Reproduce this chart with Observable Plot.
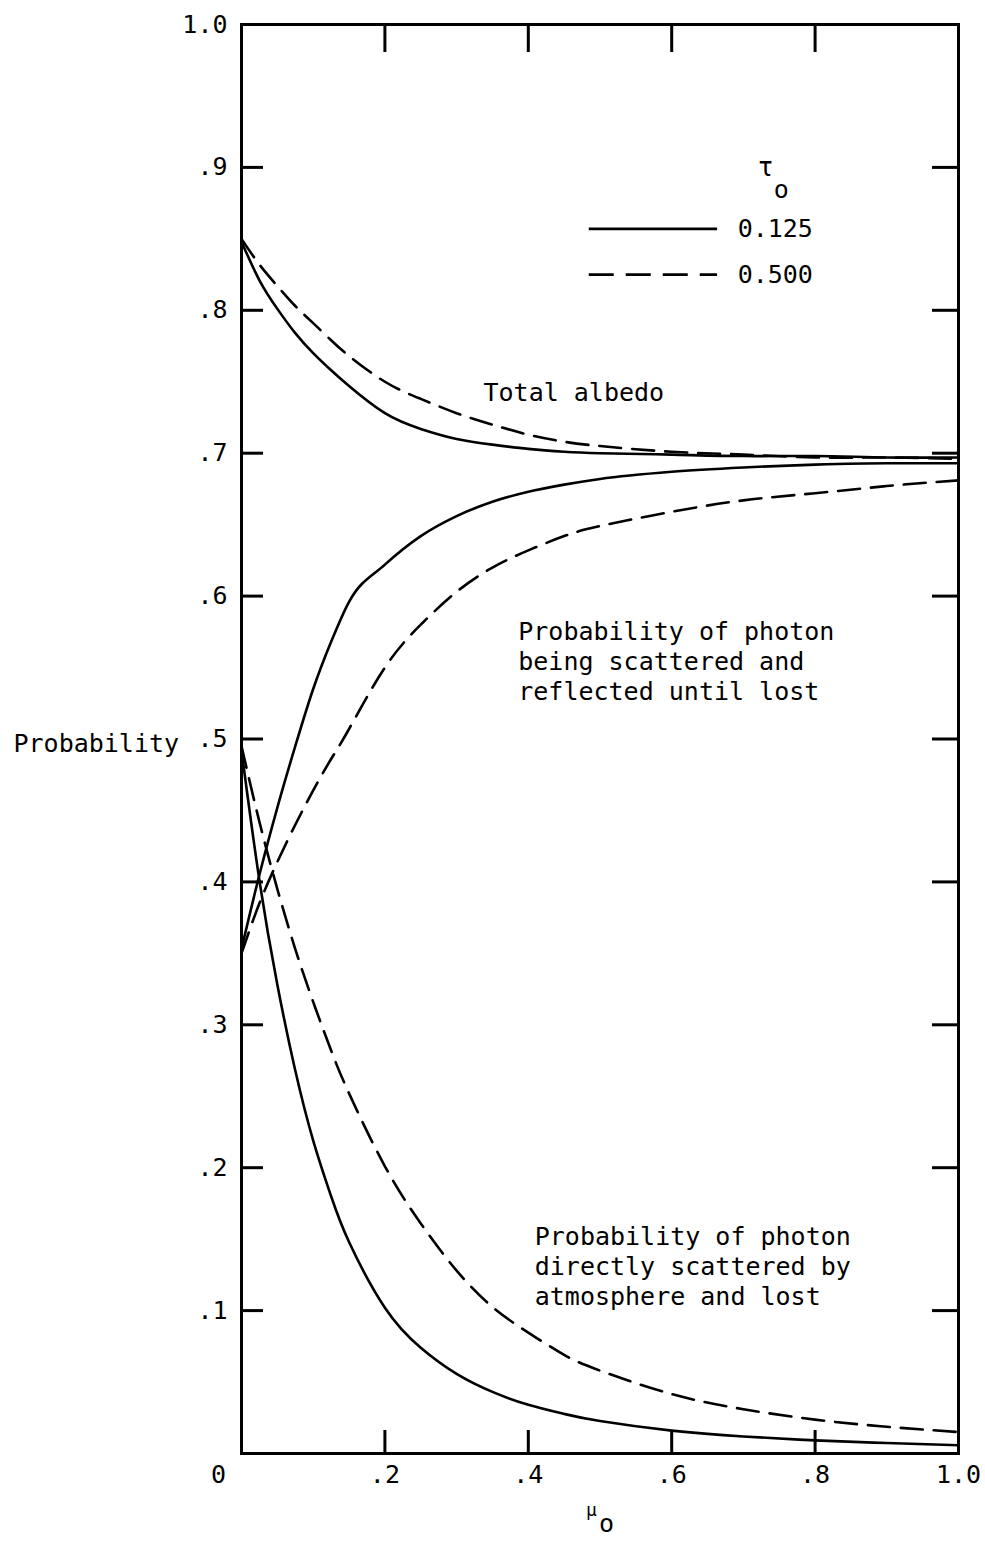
<!DOCTYPE html>
<html>
<head>
<meta charset="utf-8">
<script src="https://cdn.jsdelivr.net/npm/d3@7"></script>
<script src="https://cdn.jsdelivr.net/npm/@observablehq/plot@0.6"></script>
<style>
  html, body { margin: 0; padding: 0; background: #fff; }
  #chart svg { display: block; }
</style>
</head>
<body>
<div id="chart"></div>
<script>
// ---- data ----
const mu = [0, 0.025, 0.05, 0.075, 0.1, 0.125, 0.15, 0.2, 0.25, 0.3, 0.35, 0.4, 0.45, 0.5, 0.6, 0.7, 0.8, 0.9, 1.0];

// tau0 = 0.125 (solid)
const totalAlbedo125   = [0.848, 0.821, 0.801, 0.784, 0.770, 0.758, 0.747, 0.728, 0.717, 0.710, 0.706, 0.703, 0.701, 0.700, 0.699, 0.698, 0.698, 0.697, 0.697];
const reflected125     = [0.353, 0.405, 0.452, 0.495, 0.535, 0.568, 0.596, 0.622, 0.642, 0.656, 0.666, 0.673, 0.678, 0.682, 0.687, 0.690, 0.692, 0.693, 0.693];
const direct125        = [0.492, 0.401, 0.328, 0.268, 0.219, 0.180, 0.148, 0.102, 0.074, 0.0557, 0.0431, 0.0341, 0.0277, 0.0227, 0.0160, 0.0119, 0.0092, 0.0073, 0.0058];

// tau0 = 0.500 (dashed)
const totalAlbedo500   = [0.850, 0.832, 0.817, 0.803, 0.791, 0.779, 0.768, 0.750, 0.738, 0.728, 0.720, 0.713, 0.708, 0.705, 0.701, 0.699, 0.697, 0.697, 0.696];
const reflected500     = [0.350, 0.385, 0.414, 0.440, 0.464, 0.486, 0.507, 0.550, 0.580, 0.603, 0.620, 0.632, 0.642, 0.649, 0.659, 0.667, 0.672, 0.677, 0.681];
const direct500        = [0.495, 0.442, 0.395, 0.353, 0.316, 0.282, 0.252, 0.201, 0.161, 0.128, 0.1025, 0.0846, 0.069, 0.058, 0.0416, 0.031, 0.0237, 0.0187, 0.015];

const tauLabels = ["0.125", "0.500"];
const yTicks = [0.1, 0.2, 0.3, 0.4, 0.5, 0.6, 0.7, 0.8, 0.9, 1.0];
const xTicks = [0.2, 0.4, 0.6, 0.8];
const xLabelTicks = [0.2, 0.4, 0.6, 0.8, 1.0];
const yTickLabels = [".1", ".2", ".3", ".4", ".5", ".6", ".7", ".8", ".9", "1.0"];
const xTickLabels = [".2", ".4", ".6", ".8", "1.0"];

const curveLabels = [
  "Total albedo",
  "Probability of photon\nbeing scattered and\nreflected until lost",
  "Probability of photon\ndirectly scattered by\natmosphere and lost"
];
const curveLabelX = [0.3375, 0.386, 0.409];
const curveLabelY = [0.743, 0.555, 0.1316];

// legend placement (data units)
const legendLineX1 = 0.485, legendLineX2 = 0.664, legendTextX = 0.692;
const legendY = [0.857, 0.825];

// ---- build tidy rows ----
const series = [
  {curve: "total", tau: tauLabels[0], values: totalAlbedo125},
  {curve: "reflected", tau: tauLabels[0], values: reflected125},
  {curve: "direct", tau: tauLabels[0], values: direct125},
  {curve: "total", tau: tauLabels[1], values: totalAlbedo500},
  {curve: "reflected", tau: tauLabels[1], values: reflected500},
  {curve: "direct", tau: tauLabels[1], values: direct500}
];
const rows = series.flatMap(s => s.values.map((p, i) => ({mu: mu[i], p, curve: s.curve, tau: s.tau})));
const solidSmooth = rows.filter(d => d.tau === tauLabels[0] && d.curve !== "reflected");
const solidKnee = rows.filter(d => d.tau === tauLabels[0] && d.curve === "reflected");
const dashedRows = rows.filter(d => d.tau === tauLabels[1]);

const legendRows = tauLabels.map((t, i) => ({tau: t, y: legendY[i]}));
const annot = curveLabels.map((t, i) => ({text: t, x: curveLabelX[i], y: curveLabelY[i]}));

const font = "'DejaVu Sans Mono', 'Liberation Mono', monospace";
const DASH = "22,11";

const chart = Plot.plot({
  width: 985,
  height: 1545,
  marginLeft: 241,
  marginRight: 27,
  marginTop: 24,
  marginBottom: 92,
  x: {domain: [0, 1]},
  y: {domain: [0, 1]},
  style: {fontFamily: font, fontSize: "25px", color: "#000", background: "#fff"},
  marks: [
    // inward ticks
    Plot.axisY(yTicks, {anchor: "left", tickSize: 22, dx: 22, fill: "none", strokeWidth: 3}),
    Plot.axisY(yTicks.filter(d => d < 1), {anchor: "right", tickSize: 27, dx: -27, fill: "none", strokeWidth: 3}),
    Plot.axisX(xTicks, {anchor: "bottom", tickSize: 23, dy: -23, fill: "none", strokeWidth: 3}),
    Plot.axisX(xTicks, {anchor: "top", tickSize: 27, dy: 27, fill: "none", strokeWidth: 3}),
    // tick labels
    Plot.axisY(yTicks, {anchor: "left", tickSize: 0, tickPadding: 14, label: null, fontSize: 25,
      tickFormat: d => yTickLabels[yTicks.indexOf(d)]}),
    Plot.axisX(xLabelTicks, {anchor: "bottom", tickSize: 0, tickPadding: 12, label: null, fontSize: 25,
      tickFormat: d => xTickLabels[xLabelTicks.indexOf(d)]}),
    Plot.axisX([0], {anchor: "bottom", tickSize: 0, tickPadding: 12, dx: -23, label: null, fontSize: 25,
      tickFormat: () => "0"}),
    // frame
    Plot.frame({strokeWidth: 3}),
    // curves
    Plot.line(solidSmooth, {x: "mu", y: "p", z: "curve", curve: "natural", strokeWidth: 2.6}),
    Plot.line(solidKnee, {x: "mu", y: "p", curve: "monotone-x", strokeWidth: 2.6}),
    Plot.line(dashedRows, {x: "mu", y: "p", z: "curve", curve: "natural", strokeWidth: 2.6, strokeDasharray: DASH}),
    // curve annotations
    Plot.text(annot, {x: "x", y: "y", text: "text", textAnchor: "start", lineAnchor: "middle", lineHeight: 1.2, fontSize: 25}),
    // legend
    Plot.text(["\u03C4"], {x: 0.731, y: 0.900, fontSize: 26}),
    Plot.text(["o"], {x: 0.753, y: 0.8845, fontSize: 25}),
    Plot.ruleY(legendRows.filter(d => d.tau === tauLabels[0]), {y: "y", x1: legendLineX1, x2: legendLineX2, strokeWidth: 2.6}),
    Plot.ruleY(legendRows.filter(d => d.tau === tauLabels[1]), {y: "y", x1: legendLineX1, x2: legendLineX2, strokeWidth: 2.6, strokeDasharray: "25,12"}),
    Plot.text(legendRows, {y: "y", x: legendTextX, text: "tau", textAnchor: "start", fontSize: 25}),
    // axis titles
    Plot.text(["Probability"], {frameAnchor: "left", y: 0.5, dx: -228, dy: 5, textAnchor: "start", fontSize: 25}),
    Plot.text(["\u03BC"], {x: 0.488, frameAnchor: "bottom", dy: 62, fontSize: 18}),
    Plot.text(["o"], {x: 0.509, frameAnchor: "bottom", dy: 78, fontSize: 25})
  ]
});
document.getElementById("chart").appendChild(chart);
</script>
</body>
</html>
